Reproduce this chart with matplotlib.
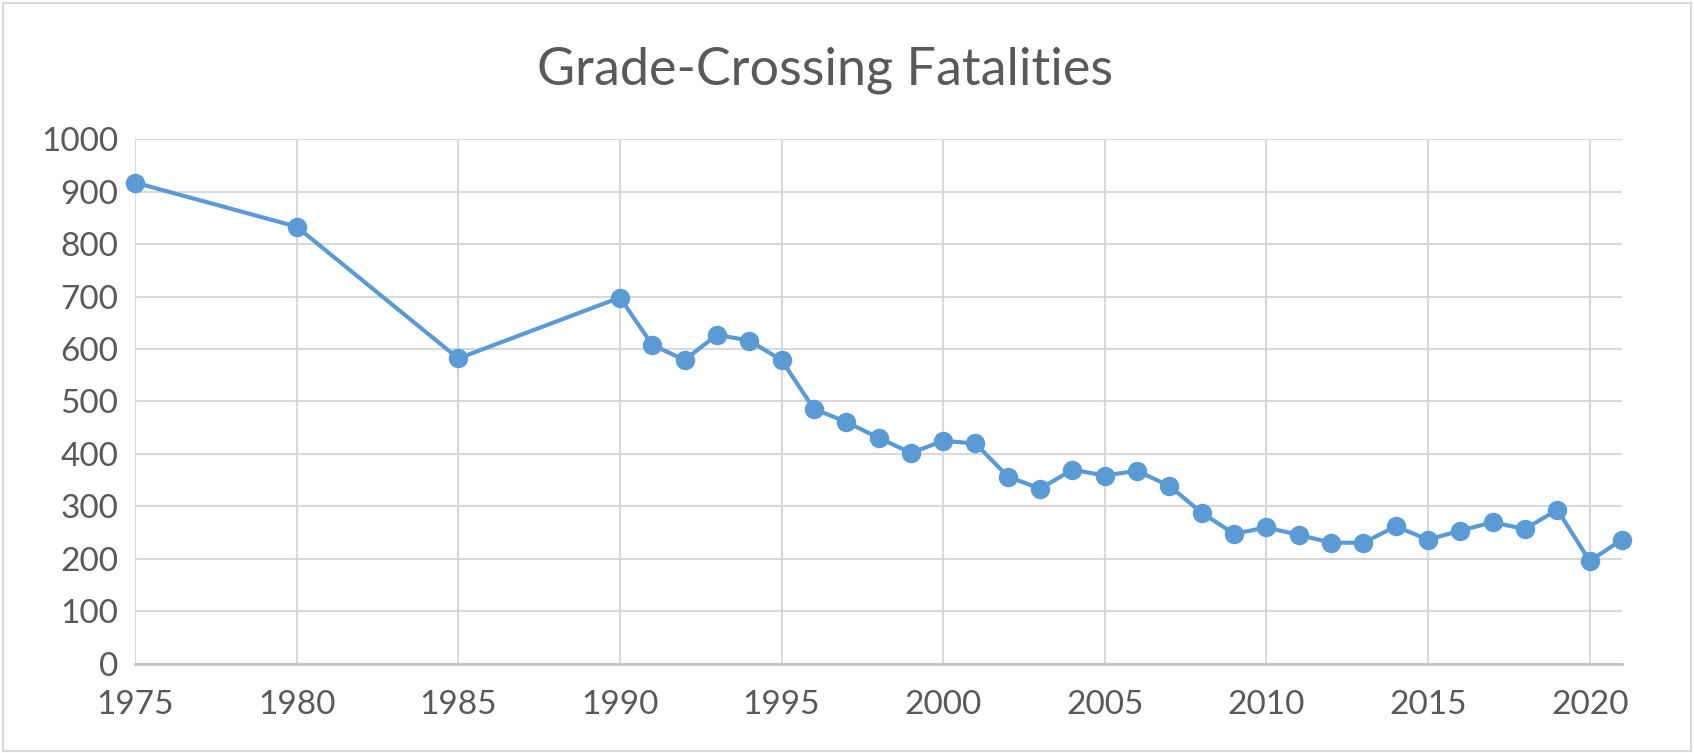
import matplotlib
matplotlib.use("Agg")
import matplotlib.pyplot as plt
from matplotlib.patches import Rectangle

years = [1975, 1980, 1985, 1990, 1991, 1992, 1993, 1994, 1995, 1996, 1997,
         1998, 1999, 2000, 2001, 2002, 2003, 2004, 2005, 2006, 2007, 2008,
         2009, 2010, 2011, 2012, 2013, 2014, 2015, 2016, 2017, 2018, 2019,
         2020, 2021]
fatalities = [917, 833, 582, 698, 608, 579, 627, 616, 579, 486, 461,
              431, 402, 425, 420, 357, 334, 370, 359, 368, 339, 288,
              248, 260, 246, 231, 231, 262, 237, 254, 270, 257, 294,
              196, 237]
xticks = [1975, 1980, 1985, 1990, 1995, 2000, 2005, 2010, 2015, 2020]
yticks = [0, 100, 200, 300, 400, 500, 600, 700, 800, 900, 1000]

TXT = "#595959"
GRID = "#d9d9d9"
BLUE = "#5b9bd5"

plt.rcParams["font.family"] = ["Lato", "DejaVu Sans"]

fig = plt.figure(figsize=(16.94, 7.53), dpi=100)
ax = fig.add_axes([0.0797, 0.1182, 0.9575 - 0.0797, 0.8154 - 0.1182])

ax.plot(years, fatalities, color=BLUE, lw=3.0, marker="o", ms=13,
        clip_on=False, zorder=3)

ax.set_xlim(1975, 2021); ax.set_ylim(0, 1000)
ax.set_xticks(xticks); ax.set_yticks(yticks)
ax.grid(True, color=GRID, lw=1.5, zorder=0)
for s in ("top", "right", "left"):
    ax.spines[s].set_visible(False)
ax.spines["bottom"].set_color("#bfbfbf"); ax.spines["bottom"].set_linewidth(1.8)
ax.tick_params(length=0, colors=TXT, labelsize=24)
ax.tick_params(axis="x", pad=19)
ax.tick_params(axis="y", pad=12)

fig.text(0.487, 0.888, "Grade-Crossing Fatalities", ha="center", va="baseline",
         fontsize=37.5, color=TXT)

# light chart-area border
fig.patches.append(Rectangle((0.002, 0.002), 0.996, 0.994, transform=fig.transFigure,
                             fill=False, edgecolor=GRID, lw=1.5))

fig.savefig("out.png", dpi=100)
